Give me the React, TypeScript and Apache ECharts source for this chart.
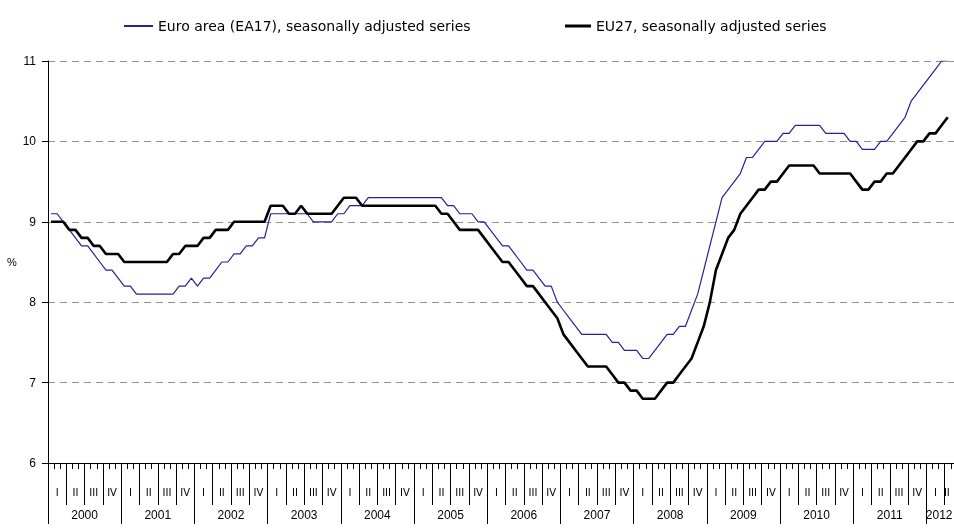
import React, { useEffect, useRef } from "react";
import * as echarts from "echarts";

const years = ["2000", "2001", "2002", "2003", "2004", "2005", "2006", "2007", "2008", "2009", "2010", "2011", "2012"];
const quarterLabels = ["I", "II", "III", "IV"];
const monthsPerYear = 12;
const monthCount = 150; // Jan 2000 .. Jun 2012 (axis extent)

const ea17 = [
  9.1, 9.1, 9.0, 8.9, 8.8, 8.7, 8.7, 8.6, 8.5, 8.4, 8.4, 8.3,
  8.2, 8.2, 8.1, 8.1, 8.1, 8.1, 8.1, 8.1, 8.1, 8.2, 8.2, 8.3,
  8.2, 8.3, 8.3, 8.4, 8.5, 8.5, 8.6, 8.6, 8.7, 8.7, 8.8, 8.8,
  9.1, 9.1, 9.1, 9.1, 9.1, 9.1, 9.1, 9.0, 9.0, 9.0, 9.0, 9.1,
  9.1, 9.2, 9.2, 9.2, 9.3, 9.3, 9.3, 9.3, 9.3, 9.3, 9.3, 9.3,
  9.3, 9.3, 9.3, 9.3, 9.3, 9.2, 9.2, 9.1, 9.1, 9.1, 9.0, 9.0,
  8.9, 8.8, 8.7, 8.7, 8.6, 8.5, 8.4, 8.4, 8.3, 8.2, 8.2, 8.0,
  7.9, 7.8, 7.7, 7.6, 7.6, 7.6, 7.6, 7.6, 7.5, 7.5, 7.4, 7.4,
  7.4, 7.3, 7.3, 7.4, 7.5, 7.6, 7.6, 7.7, 7.7, 7.9, 8.1, 8.4,
  8.7, 9.0, 9.3, 9.4, 9.5, 9.6, 9.8, 9.8, 9.9, 10.0, 10.0, 10.0,
  10.1, 10.1, 10.2, 10.2, 10.2, 10.2, 10.2, 10.1, 10.1, 10.1, 10.1, 10.0,
  10.0, 9.9, 9.9, 9.9, 10.0, 10.0, 10.1, 10.2, 10.3, 10.5, 10.6, 10.7,
  10.8, 10.9, 11.0, 11.0,
];

const eu27 = [
  9.0, 9.0, 9.0, 8.9, 8.9, 8.8, 8.8, 8.7, 8.7, 8.6, 8.6, 8.6,
  8.5, 8.5, 8.5, 8.5, 8.5, 8.5, 8.5, 8.5, 8.6, 8.6, 8.7, 8.7,
  8.7, 8.8, 8.8, 8.9, 8.9, 8.9, 9.0, 9.0, 9.0, 9.0, 9.0, 9.0,
  9.2, 9.2, 9.2, 9.1, 9.1, 9.2, 9.1, 9.1, 9.1, 9.1, 9.1, 9.2,
  9.3, 9.3, 9.3, 9.2, 9.2, 9.2, 9.2, 9.2, 9.2, 9.2, 9.2, 9.2,
  9.2, 9.2, 9.2, 9.2, 9.1, 9.1, 9.0, 8.9, 8.9, 8.9, 8.9, 8.8,
  8.7, 8.6, 8.5, 8.5, 8.4, 8.3, 8.2, 8.2, 8.1, 8.0, 7.9, 7.8,
  7.6, 7.5, 7.4, 7.3, 7.2, 7.2, 7.2, 7.2, 7.1, 7.0, 7.0, 6.9,
  6.9, 6.8, 6.8, 6.8, 6.9, 7.0, 7.0, 7.1, 7.2, 7.3, 7.5, 7.7,
  8.0, 8.4, 8.6, 8.8, 8.9, 9.1, 9.2, 9.3, 9.4, 9.4, 9.5, 9.5,
  9.6, 9.7, 9.7, 9.7, 9.7, 9.7, 9.6, 9.6, 9.6, 9.6, 9.6, 9.6,
  9.5, 9.4, 9.4, 9.5, 9.5, 9.6, 9.6, 9.7, 9.8, 9.9, 10.0, 10.0,
  10.1, 10.1, 10.2, 10.3,
];

const seriesNames = ["Euro area (EA17), seasonally adjusted series", "EU27, seasonally adjusted series"];

const months: string[] = [];
years.forEach((y) => {
  for (let m = 1; m <= monthsPerYear; m++) months.push(`${y}-${m < 10 ? "0" + m : m}`);
});
const categories = months.slice(0, monthCount);

const FONT = "Liberation Sans, Arial, sans-serif";

export default function App() {
  const ref = useRef<HTMLDivElement>(null);
  useEffect(() => {
    if (!ref.current) return;
    const chart = echarts.init(ref.current, undefined, { renderer: "svg" });
    const baseAxis = {
      type: "category",
      data: categories,
      position: "bottom",
      boundaryGap: true,
      splitLine: { show: false },
    };
    const qStyle = {
      fontFamily: "DejaVu Sans",
      fontSize: 10,
      color: "#000",
    };
    chart.setOption({
      animation: false,
      grid: { left: 48, top: 61, width: 915, height: 402, containLabel: false, outerBoundsMode: "none" },
      legend: [
        {
          left: 119,
          top: 14,
          icon: "rect",
          itemWidth: 29,
          itemHeight: 2,
          data: [seriesNames[0]],
          textStyle: { fontFamily: "DejaVu Sans", fontSize: 14, color: "#000" },
        },
        {
          left: 560,
          top: 14,
          icon: "rect",
          itemWidth: 26,
          itemHeight: 3,
          data: [seriesNames[1]],
          textStyle: { fontFamily: "DejaVu Sans", fontSize: 14, color: "#000" },
        },
      ],
      xAxis: [
        {
          ...baseAxis,
          axisLine: { show: true, lineStyle: { color: "#000", width: 1 } },
          axisTick: { show: true, interval: 0, length: 6, lineStyle: { color: "#000" } },
          axisLabel: { show: false },
        },
        {
          ...baseAxis,
          axisLine: { show: false },
          axisTick: {
            show: true,
            interval: (i: number) => i % 3 === 0,
            length: 42,
            lineStyle: { color: "#000" },
          },
          axisLabel: {
            show: true,
            interval: (i: number) => i % 3 === 1,
            margin: 24,
            ...qStyle,
            formatter: (_v: string, i: number) => {
              const q = quarterLabels[Math.floor((i % 12) / 3)];
              return i >= monthCount - 2 ? `{e|${q}}` : `{q|${q}}`;
            },
            rich: {
              q: { ...qStyle },
              e: { ...qStyle, padding: [0, 14, 0, 0] },
            },
          },
        },
        {
          ...baseAxis,
          axisLine: { show: false },
          axisTick: {
            show: true,
            interval: (i: number) => i % 12 === 0,
            length: 61,
            lineStyle: { color: "#000" },
          },
          axisLabel: {
            show: true,
            interval: (i: number) => (i % 12 === 5 && i < 144) || i === 146,
            margin: 46,
            fontFamily: FONT,
            fontSize: 12,
            color: "#000",
            formatter: (_v: string, i: number) => {
              const y = years[Math.floor(i / 12)];
              if (i === 146) return `{e|${y}}`;
              return `{y|${y}}`;
            },
            rich: {
              y: { padding: [0, 0, 0, 6], fontFamily: FONT, fontSize: 12, color: "#000" },
              e: { padding: [0, 5, 0, 0], fontFamily: FONT, fontSize: 12, color: "#000" },
            },
          },
        },
      ],
      yAxis: {
        type: "value",
        min: 6,
        max: 11,
        interval: 1,
        name: "%",
        nameLocation: "middle",
        nameRotate: 0,
        nameGap: 28,
        nameTextStyle: { fontFamily: FONT, fontSize: 11, color: "#000" },
        axisLine: { show: true, lineStyle: { color: "#000", width: 1 } },
        axisTick: { show: true, length: 6, lineStyle: { color: "#000" } },
        axisLabel: { margin: 12, fontFamily: FONT, fontSize: 12, color: "#000" },
        splitLine: { show: true, lineStyle: { color: "#909090", type: [7, 5], width: 1 } },
      },
      series: [
        {
          name: seriesNames[0],
          type: "line",
          xAxisIndex: 0,
          data: ea17,
          showSymbol: false,
          symbol: "none",
          color: "#222299",
          lineStyle: { color: "#222299", width: 1.2 },
          z: 3,
        },
        {
          name: seriesNames[1],
          type: "line",
          xAxisIndex: 0,
          data: eu27,
          showSymbol: false,
          symbol: "none",
          color: "#000000",
          lineStyle: { color: "#000000", width: 2.6 },
          z: 4,
        },
      ],
    });
    return () => chart.dispose();
  }, []);
  return (
    <div
      ref={ref}
      style={{ position: "absolute", left: 0, top: 0, width: 954, height: 532, overflow: "hidden", willChange: "transform" }}
    />
  );
}
